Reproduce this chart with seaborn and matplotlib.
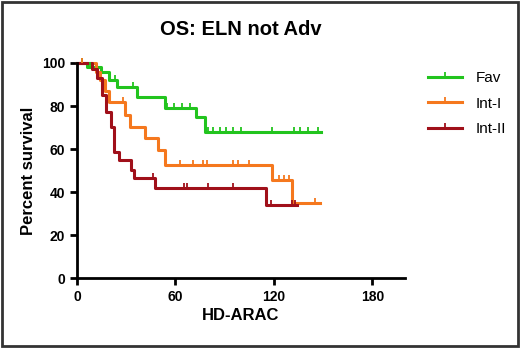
import numpy as np
import pandas as pd
import matplotlib
matplotlib.use("Agg")
import matplotlib.pyplot as plt
import seaborn as sns
from matplotlib.patches import Rectangle

# step curves (time, percent survival)
fav_t = [0, 6, 14.6, 19.7, 24.5, 36.6, 53.6, 72.8, 77.9, 149]
fav_s = [100, 98.3, 96, 92, 88.7, 84.3, 79, 75, 68, 68]
int1_t = [0, 11.6, 14, 17, 19.5, 29, 32.4, 41.5, 49.4, 53.6, 119, 131, 148]
int1_s = [100, 96, 92, 87, 82, 76, 70.4, 65, 59.5, 52.6, 45.6, 35, 35]
int2_t = [0, 9.2, 12.4, 15, 17.7, 20.7, 22.7, 25.8, 32.8, 34.8, 47.6, 115.5, 134]
int2_s = [100, 97, 93, 85, 77.4, 70.4, 58.8, 54.9, 50.2, 46.4, 42, 34, 34]

# censor times
fav_c = [3, 8, 23, 34, 55, 59, 64, 69, 80, 83, 87, 91, 95, 100, 119, 132, 136, 141, 147]
int1_c = [3, 28, 63, 71, 77, 79, 95, 98, 105, 123, 126, 129, 145]
int2_c = [46.5, 65, 67, 80, 95, 118, 131, 133]

groups = ["Fav", "Int-I", "Int-II"]
colors = ["#22c41e", "#f5781e", "#a0101a"]

curves = {"Fav": (fav_t, fav_s, fav_c),
          "Int-I": (int1_t, int1_s, int1_c),
          "Int-II": (int2_t, int2_s, int2_c)}

rows = []
for g in groups:
    t, s, _ = curves[g]
    for ti, si in zip(t, s):
        rows.append({"time": ti, "surv": si, "group": g})
df = pd.DataFrame(rows)

plt.rcParams["font.family"] = ["Liberation Sans", "DejaVu Sans"]
fig = plt.figure(figsize=(5.2, 3.48), dpi=100)
ax = fig.add_axes([0.148, 0.201, 0.631, 0.618])

sns.lineplot(data=df, x="time", y="surv", hue="group", palette=colors,
             hue_order=groups, drawstyle="steps-post", linewidth=2.2,
             estimator=None, sort=False, ax=ax, legend=False, clip_on=False)

# censor ticks
for g, c in zip(groups, colors):
    t, s, cens = curves[g]
    idx = np.searchsorted(t, cens, side="right") - 1
    ys = [s[i] for i in idx]
    ax.plot(cens, ys, linestyle="none", marker=2, markersize=3.5,
            markeredgewidth=1.3, color=c, clip_on=False)

ax.set_xlim(0, 200)
ax.set_ylim(0, 100)
ax.set_xticks([0, 60, 120, 180])
ax.set_yticks([0, 20, 40, 60, 80, 100])
for side in ["top", "right"]:
    ax.spines[side].set_visible(False)
for side in ["left", "bottom"]:
    ax.spines[side].set_linewidth(2)
ax.tick_params(width=2, length=5, labelsize=10)
for lbl in ax.get_xticklabels() + ax.get_yticklabels():
    lbl.set_fontweight("bold")
ax.set_xlabel("HD-ARAC", fontsize=12, fontweight="bold", labelpad=3)
ax.set_ylabel("Percent survival", fontsize=12, fontweight="bold", labelpad=4)
ax.set_title("OS: ELN not Adv", fontsize=14.5, fontweight="bold", pad=20)

handles = [plt.Line2D([0, 0.5, 1], [0, 0, 0], color=c, linewidth=2.2, marker=2,
                      markersize=3.5, markeredgewidth=1.3, markevery=[1])
           for c in colors]
fig.legend(handles, groups, loc="upper left", bbox_to_anchor=(0.797, 0.835),
           frameon=False, fontsize=11, handlelength=2.2, labelspacing=0.75,
           handletextpad=0.9)

fig.patches.append(Rectangle((0.004, 0.006), 0.992, 0.988, transform=fig.transFigure,
                             fill=False, edgecolor="#333333", linewidth=2))

fig.savefig("out.png", dpi=100)
